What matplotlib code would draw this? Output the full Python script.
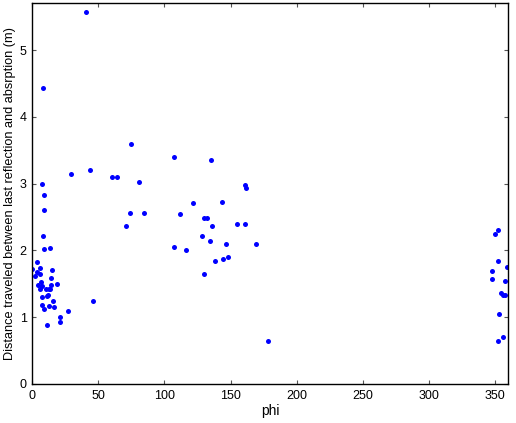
import matplotlib
matplotlib.use('Agg')
import matplotlib.pyplot as plt

# phi (deg) and distance (m)
phi = [40.6, 8.1, 29.1, 43.9, 60.3, 63.8, 74.7, 80.5, 107.0, 7.3, 9.1,
       9.1, 8.3, 9.1, 13.4, 0.0, 1.8, 3.3, 3.8, 5.8, 5.8, 4.5, 6.8, 5.8,
       7.6, 7.6, 7.6, 9.1, 10.1, 10.9, 12.1, 12.6, 13.4, 14.1, 14.1, 15.1,
       15.9, 16.6, 12.6, 18.5, 10.9, 21.0, 21.0, 26.8, 45.7, 71.1, 73.9,
       84.5, 107.0, 111.8,
       135.2, 121.8, 143.3, 130.2, 131.9, 136.0, 128.4, 134.5, 146.6,
       116.1, 138.5, 144.3, 148.3, 160.7, 161.7, 154.9, 160.9, 169.0,
       130.2, 178.1,
       352.3, 350.3, 352.1, 358.9, 347.8, 348.0, 357.9, 354.4, 356.1,
       357.9, 353.3, 356.4, 352.1]
dist = [5.57, 4.43, 3.15, 3.20, 3.10, 3.10, 3.60, 3.03, 3.40, 2.99, 2.83,
        2.61, 2.21, 2.02, 2.03, 1.72, 1.62, 1.82, 1.67, 1.73, 1.65, 1.48,
        1.52, 1.43, 1.47, 1.30, 1.18, 1.13, 1.42, 1.32, 1.33, 1.42, 1.43,
        1.48, 1.58, 1.70, 1.25, 1.15, 1.17, 1.50, 0.88, 1.00, 0.93, 1.10,
        1.25, 2.36, 2.56, 2.56, 2.05, 2.54,
        3.35, 2.71, 2.72, 2.49, 2.49, 2.37, 2.22, 2.14, 2.10, 2.00, 1.84,
        1.87, 1.90, 2.98, 2.94, 2.39, 2.39, 2.10, 1.65, 0.65,
        2.31, 2.25, 1.84, 1.75, 1.69, 1.57, 1.54, 1.37, 1.34, 1.34, 1.05,
        0.70, 0.65]

plt.rcParams['font.family'] = ['Liberation Sans', 'DejaVu Sans']

fig = plt.figure(figsize=(5.16, 4.23), dpi=100)
ax = fig.add_axes([0.0626, 0.0922, 0.9221, 0.9014])

ax.plot(phi, dist, 'o', color='blue', markersize=3.6, markeredgewidth=0)

ax.set_xlim(0, 360)
ax.set_ylim(0, 5.71)
ax.set_xticks(range(0, 351, 50))
ax.set_yticks(range(0, 6))
ax.tick_params(direction='in', top=True, right=True, length=3, width=0.8,
               labelsize=9, color='#555555', pad=4)
for s in ax.spines.values():
    s.set_linewidth(1.0)

ax.set_xlabel('phi', fontsize=10, labelpad=2)
ax.set_ylabel('Distance traveled between last reflection and absrption (m)',
              fontsize=9.2, labelpad=3)

fig.savefig('out.png', dpi=100)
